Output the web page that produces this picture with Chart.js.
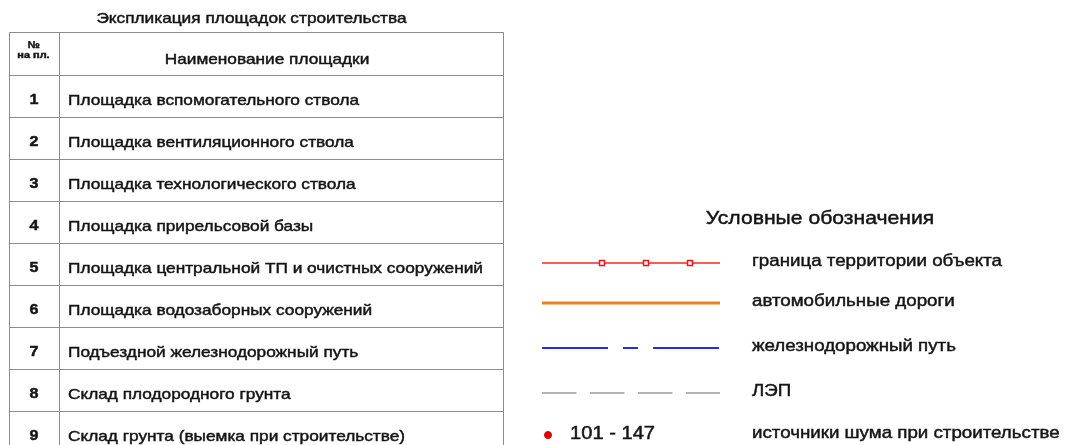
<!DOCTYPE html>
<html>
<head>
<meta charset="utf-8">
<script src="https://cdn.jsdelivr.net/npm/chart.js@4/dist/chart.umd.min.js"></script>
<style>
html,body{margin:0;padding:0;background:#fff;}
#wrap{width:1071px;height:445px;}
</style>
</head>
<body>
<div id="wrap"><canvas id="c" width="1071" height="445"></canvas></div>
<script>
// ---- content (data) ----
const tableTitle = 'Экспликация площадок строительства';
const headerNumber = ['№', 'на пл.'];
const headerName = 'Наименование площадки';
const rowNumbers = ['1', '2', '3', '4', '5', '6', '7', '8', '9'];
const siteNames = [
  'Площадка вспомогательного ствола',
  'Площадка вентиляционного ствола',
  'Площадка технологического ствола',
  'Площадка прирельсовой базы',
  'Площадка центральной ТП и очистных сооружений',
  'Площадка водозаборных сооружений',
  'Подъездной железнодорожный путь',
  'Склад плодородного грунта',
  'Склад грунта (выемка при строительстве)'
];
const legendTitle = 'Условные обозначения';
const legendLabels = [
  'граница территории объекта',
  'автомобильные дороги',
  'железнодорожный путь',
  'ЛЭП',
  'источники шума при строительстве'
];
const noiseSourceRange = '101 - 147';

// ---- layout (positions / sizes / styles) ----
const W = 1071, H = 445;
const T = {left: 9.5, sep: 59.5, right: 503.5, top: 32.5, headBottom: 75.5, rowH: 42, titleY: 19};
const L = {x0: 542, x1: 720, textX: 752, titleX: 820, titleY: 219, rows: [263, 303, 348, 393, 435]};
const FONT = '"Liberation Sans", Arial, sans-serif';
const STRETCH = 1.15;

const gridColor = '#8c8c8c';
const datasets = [];
function seg(pts, color, width, dash, extra) {
  datasets.push(Object.assign({
    type: 'line', data: pts.map(p => ({x: p[0], y: p[1]})),
    borderColor: color, borderWidth: width, borderDash: dash || [],
    pointRadius: 0, fill: false, tension: 0, showLine: true
  }, extra || {}));
}
// table grid
seg([[T.left, H + 5], [T.left, T.top], [T.right, T.top], [T.right, H + 5]], gridColor, 1);
seg([[T.sep, T.top], [T.sep, H + 5]], gridColor, 1);
seg([[T.left, T.headBottom], [T.right, T.headBottom]], gridColor, 1);
rowNumbers.forEach((n, i) => {
  const y = T.headBottom + (i + 1) * T.rowH;
  if (y < H) seg([[T.left, y], [T.right, y]], gridColor, 1);
});

// legend symbols
const boundaryMarkers = [602, 646, 690];
datasets.push({
  type: 'line',
  data: [L.x0, ...boundaryMarkers, L.x1].map(x => ({x: x, y: L.rows[0]})),
  borderColor: 'rgba(255,80,80,0.95)', borderWidth: 2, showLine: true, tension: 0,
  pointStyle: 'rect', pointRadius: [0, 3.5, 3.5, 3.5, 0],
  pointBackgroundColor: '#fff', pointBorderColor: '#ff1010', pointBorderWidth: 1.5
});
seg([[L.x0, L.rows[1]], [L.x1, L.rows[1]]], '#ea8220', 3);
seg([[L.x0, L.rows[2]], [L.x1, L.rows[2]]], '#2a2ae0', 2, [66, 15, 15, 15]);
seg([[L.x0, L.rows[3]], [L.x1, L.rows[3]]], '#b4b4b4', 2, [34.5, 13.5]);
datasets.push({
  type: 'scatter', data: [{x: 548, y: L.rows[4]}],
  pointRadius: 3.5, pointBackgroundColor: '#e00000', pointBorderColor: '#e00000'
});

function txt(ctx, s, x, y, font, align) {
  ctx.save();
  ctx.font = font;
  ctx.textAlign = align;
  ctx.textBaseline = 'middle';
  ctx.translate(x, y);
  ctx.scale(STRETCH, 1);
  ctx.fillText(s, 0, 0);
  ctx.lineWidth = 0.45;
  ctx.strokeText(s, 0, 0);
  ctx.restore();
}

const textPlugin = {
  id: 'texts',
  afterDraw(chart) {
    const ctx = chart.ctx, xs = chart.scales.x, ys = chart.scales.y;
    const px = v => xs.getPixelForValue(v), py = v => ys.getPixelForValue(v);
    ctx.save();
    ctx.fillStyle = '#141414';
    ctx.strokeStyle = '#141414';
    txt(ctx, tableTitle, px(251.5), py(T.titleY), '15px ' + FONT, 'center');
    txt(ctx, headerNumber[0], px(33.5), py(45), 'bold 9.5px ' + FONT, 'center');
    txt(ctx, headerNumber[1], px(33.5), py(55.5), 'bold 9.5px ' + FONT, 'center');
    txt(ctx, headerName, px(267), py(60), '15px ' + FONT, 'center');
    rowNumbers.forEach((n, i) => {
      const y = T.headBottom + i * T.rowH + 25;
      txt(ctx, n, px(34), py(y), 'bold 14px ' + FONT, 'center');
      txt(ctx, siteNames[i], px(68), py(y), '15px ' + FONT, 'left');
    });
    txt(ctx, legendTitle, px(L.titleX), py(L.titleY), '18.4px ' + FONT, 'center');
    legendLabels.forEach((t, i) => txt(ctx, t, px(L.textX), py(L.rows[i] - 1), '16.3px ' + FONT, 'left'));
    txt(ctx, noiseSourceRange, px(570), py(L.rows[4] - 1), '17.5px ' + FONT, 'left');
    ctx.restore();
  }
};

new Chart(document.getElementById('c'), {
  type: 'scatter',
  data: {datasets: datasets},
  options: {
    responsive: false, animation: false, events: [],
    layout: {padding: 0, autoPadding: false},
    plugins: {legend: {display: false}, tooltip: {enabled: false}},
    scales: {
      x: {type: 'linear', min: 0, max: W, display: false},
      y: {type: 'linear', min: 0, max: H, reverse: true, display: false}
    }
  },
  plugins: [textPlugin]
});
</script>
</body>
</html>
